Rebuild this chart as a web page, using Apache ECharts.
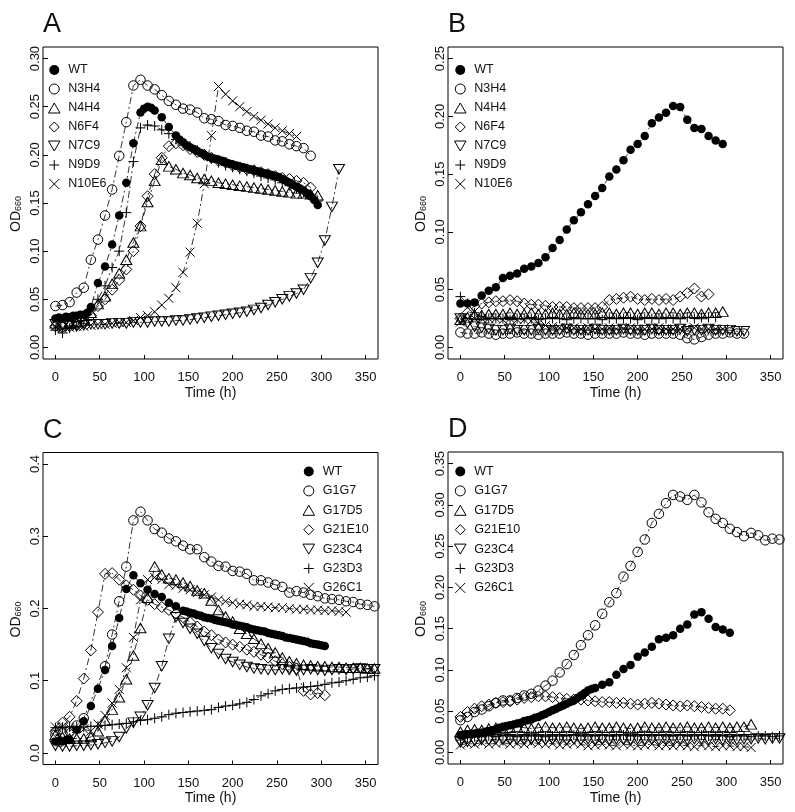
<!DOCTYPE html>
<html><head><meta charset="utf-8">
<script src="https://cdn.jsdelivr.net/npm/echarts@6/dist/echarts.min.js"></script>
<style>html,body{margin:0;padding:0;background:#fff}#c{width:795px;height:812px}</style>
</head><body><div id="c"></div>
<script>
// ---------- time grids (h) ----------
const T4 = [0,4,8,12,16,20,24,28,32,36,40,44,48,52,56,60,64,68,72,76,80,84,88,92,96,100,104,108,112,116,120,124,128,132,136,140,144,148,152,156,160,164,168,172,176,180,184,188,192,196,200,204,208,212,216,220,224,228,232,236,240,244,248,252,256,260,264,268,272,276,280,284,288,292,296,300,304,308,312,316,320,324,328,332,336,340,344,348,352,356,360];
const T8 = [0,8,16,24,32,40,48,56,64,72,80,88,96,104,112,120,128,136,144,152,160,168,176,184,192,200,208,216,224,232,240,248,256,264,272,280,288,296,304,312,320,328,336,344,352,360];

// ---------- names & ticks ----------
const NAMES_AB = ['WT','N3H4','N4H4','N6F4','N7C9','N9D9','N10E6'];
const NAMES_CD = ['WT','G1G7','G17D5','G21E10','G23C4','G23D3','G26C1'];
const PANEL_LABELS = ['A','B','C','D'];
const X_TICKS = [0,50,100,150,200,250,300,350];
const Y_TICKS_A = [0,0.05,0.10,0.15,0.20,0.25,0.30];
const Y_TICKS_B = [0,0.05,0.10,0.15,0.20,0.25];
const Y_TICKS_C = [0,0.1,0.2,0.3,0.4];
const Y_TICKS_D = [0,0.05,0.10,0.15,0.20,0.25,0.30,0.35];

// ---------- Panel A ----------
const A_WT = [0.030,0.031,0.030,0.032,0.031,0.033,0.033,0.034,0.034,0.036,
 0.042,null,0.067,null,0.084,null,0.107,null,0.137,null,
 0.171,null,0.212,null,0.244,0.248,0.250,0.249,0.246,null,
 0.239,null,0.229,null,0.220,0.216,0.213,0.210,0.208,0.206,
 0.204,0.202,0.200,0.198,0.197,0.196,0.195,0.194,0.192,0.191,
 0.190,0.189,0.188,0.187,0.186,0.185,0.184,0.183,0.182,0.181,
 0.180,0.179,0.178,0.177,0.175,0.173,0.171,0.169,0.167,0.165,
 0.163,0.160,0.157,0.153,0.148];
const A_N3H4 = [0.043,0.044,0.047,0.057,0.062,0.091,0.112,0.137,0.164,0.199,0.234,0.272,0.278,0.272,0.268,0.262,0.256,0.252,0.248,0.247,0.244,0.238,0.237,0.235,0.231,0.230,0.228,0.225,0.224,0.220,0.219,0.215,0.214,0.211,0.209,0.207,0.199];
const A_N4H4 = [0.025,0.024,0.025,0.026,0.030,0.036,0.045,0.053,0.066,0.077,0.091,0.109,0.126,0.151,0.173,0.195,0.188,0.185,0.181,0.179,0.176,0.175,0.173,0.171,0.170,0.169,0.168,0.167,0.166,0.165,0.164,0.163,0.162,0.161,0.160,0.160,0.159,0.158];
const A_N6F4 = [0.022,0.021,0.022,0.023,0.026,0.033,0.043,0.050,0.060,0.070,0.081,0.100,0.126,0.157,0.180,0.197,0.209,0.212,0.210,0.206,0.203,0.200,0.197,0.194,0.192,0.189,0.187,0.185,0.184,0.182,0.180,0.178,0.176,0.175,0.173,0.171,0.166];
const A_N7C9 = [0.024,0.022,0.023,0.022,0.023,0.024,0.024,0.024,0.025,0.025,0.025,0.026,0.026,0.026,0.027,0.027,0.027,0.028,0.028,0.029,0.030,0.031,0.032,0.033,0.034,0.035,0.036,0.037,0.039,0.041,0.044,0.047,0.050,0.053,0.056,0.060,0.072,0.088,0.111,0.146,0.185];
const A_N9D9 = [0.018,0.015,0.020,0.022,0.028,0.038,0.050,0.064,0.083,0.100,0.140,0.193,0.228,0.231,0.230,0.226,0.222,0.216,0.212,0.209,0.205,0.201,0.196,0.192,0.189,0.187,0.185,0.183,0.181,0.178,0.176,0.174,0.171,0.168,0.165,0.161,0.157,0.152];
const A_N10E6 = [0.022,0.020,0.021,0.022,0.022,0.023,0.024,0.024,0.025,0.026,0.026,0.028,0.031,0.033,0.037,0.044,0.051,0.062,0.078,0.099,0.129,0.170,0.220,0.271,0.263,0.256,0.250,0.245,0.240,0.236,0.232,0.228,0.225,0.222,0.219];

// ---------- Panel B ----------
const B_WT = [0.038,0.038,0.039,0.045,0.049,0.052,0.060,0.062,0.064,0.068,0.070,0.073,0.078,0.086,0.093,0.102,0.110,0.117,0.124,0.131,0.138,0.148,0.154,0.162,0.171,0.176,0.183,0.194,0.199,0.203,0.209,0.208,0.197,0.190,0.189,0.183,0.179,0.176];
const B_N3H4 = [0.013,0.012,0.012,0.013,0.012,0.011,0.012,0.012,0.013,0.012,0.012,0.011,0.012,0.012,0.012,0.013,0.012,0.012,0.011,0.012,0.012,0.012,0.012,0.013,0.012,0.012,0.011,0.012,0.012,0.012,0.012,0.011,0.008,0.007,0.009,0.011,0.012,0.012,0.013,0.012,0.012];
const B_N4H4 = [0.024,0.026,0.028,0.028,0.029,0.029,0.029,0.030,0.029,0.029,0.030,0.029,0.029,0.030,0.029,0.029,0.030,0.029,0.029,0.029,0.030,0.030,0.029,0.030,0.030,0.029,0.030,0.030,0.029,0.030,0.030,0.029,0.030,0.030,0.029,0.030,0.030,0.031];
const B_N6F4 = [0.025,0.030,0.036,0.038,0.039,0.040,0.040,0.041,0.040,0.038,0.037,0.037,0.036,0.035,0.035,0.035,0.034,0.034,0.034,0.034,0.035,0.041,0.042,0.043,0.044,0.042,0.041,0.042,0.041,0.042,0.041,0.044,0.047,0.051,0.044,0.046];
const B_N7C9 = [0.025,0.021,0.018,0.017,0.016,0.015,0.015,0.016,0.015,0.015,0.015,0.016,0.015,0.015,0.015,0.016,0.015,0.015,0.015,0.016,0.015,0.015,0.015,0.016,0.015,0.015,0.015,0.016,0.015,0.015,0.015,0.016,0.014,0.015,0.015,0.016,0.015,0.015,0.015,0.014,0.014];
const B_N9D9 = [0.044,0.038,0.030,0.027,0.025,0.025,0.025,0.024,0.025,0.025,0.025,0.024,0.025,0.025,0.025,0.024,0.025,0.025,0.025,0.025,0.024,0.025,0.025,0.025,0.025,0.024,0.025,0.025,0.025,0.025,0.025,0.025,0.026,0.025,0.026,0.026,0.026];
const B_N10E6 = [0.022,0.024,0.025,0.025,0.025,0.025,0.024,0.025,0.024,0.024,0.023,0.021,0.019,0.018,0.017,0.017,0.017,0.016,0.017,0.016,0.016,0.017,0.016,0.016,0.017,0.016,0.016,0.016,0.017,0.016,0.016,0.016,0.016,0.017,0.016,0.016,0.016,0.016];

// ---------- Panel C ----------
const C_WT = [0.016,0.017,0.016,0.018,0.018,null,0.032,null,0.044,null,
 0.065,null,0.089,null,0.115,null,0.148,null,0.187,null,
 0.227,null,0.246,null,0.235,null,0.226,null,0.220,null,
 0.216,null,0.208,null,0.203,null,0.197,0.196,0.194,0.193,
 0.191,0.190,0.188,0.187,0.186,0.184,0.183,0.182,0.181,0.180,
 0.178,0.177,0.176,0.175,0.174,0.172,0.171,0.170,0.169,0.168,
 0.166,0.165,0.164,0.163,0.162,0.160,0.159,0.158,0.157,0.156,
 0.155,0.154,0.152,0.151,0.150,0.149,0.148];
const C_G1G7 = [0.025,0.027,0.030,0.038,0.048,null,null,0.120,0.164,0.210,0.258,0.322,0.334,0.322,0.310,0.305,0.297,0.293,0.287,0.282,0.282,0.271,0.265,0.259,0.258,0.252,0.251,0.248,0.239,0.239,0.236,0.233,0.230,0.222,0.224,0.222,0.219,0.217,0.214,0.213,0.212,0.210,0.209,0.206,0.205,0.203];
const C_G17D5 = [0.025,0.022,0.020,0.020,0.020,0.022,0.030,0.045,0.060,0.077,0.102,0.135,0.173,0.215,0.258,0.247,0.242,0.240,0.236,0.231,0.225,0.221,0.211,0.198,0.189,0.182,0.172,0.165,0.158,0.151,0.145,0.139,0.132,0.127,0.124,0.122,0.121,0.120,0.120,0.119,0.119,0.118,0.118,0.118,0.117,0.117];
const C_G21E10 = [0.030,0.042,0.050,0.072,0.103,0.142,0.195,0.248,0.249,0.240,0.232,0.226,0.218,0.212,0.206,0.202,0.198,0.193,0.188,0.181,0.175,0.168,0.163,0.157,0.153,0.150,0.147,0.143,0.140,0.136,0.132,0.127,0.123,0.119,0.117,0.086,0.081,0.083,0.080];
const C_G23C4 = [0.010,0.009,0.009,0.010,0.010,0.011,0.012,0.014,0.016,0.022,0.034,0.042,0.050,0.066,0.090,0.120,0.158,0.188,0.180,0.172,0.165,0.155,0.145,0.137,0.130,0.126,0.122,0.119,0.117,0.116,0.115,0.115,0.116,0.115,0.114,0.115,0.116,0.115,0.114,0.115,0.116,0.115,0.116,0.117,0.116,0.116];
const C_G23D3 = [0.035,0.035,0.036,0.036,0.036,0.037,0.037,0.038,0.039,0.040,0.041,0.043,0.045,0.046,0.048,0.050,0.053,0.055,0.056,0.057,0.058,0.059,0.060,0.063,0.065,0.066,0.068,0.070,0.074,0.079,0.082,0.086,0.088,0.089,0.090,0.091,0.092,0.093,0.095,0.097,0.098,0.100,0.102,0.104,0.105,0.107];
const C_G26C1 = [0.036,0.037,0.035,0.034,0.033,0.030,0.040,0.052,0.069,0.088,0.118,0.160,0.212,0.240,0.243,0.240,0.233,0.232,0.228,0.226,0.222,0.219,0.216,0.212,0.210,0.208,0.206,0.205,0.203,0.203,0.202,0.201,0.201,0.200,0.199,0.199,0.198,0.198,0.197,0.197,0.196,0.195];

// ---------- Panel D ----------
const D_WT = [0.021,0.021,0.022,0.022,0.023,0.024,0.024,0.025,0.026,0.027,
 0.028,0.030,0.031,0.032,0.033,0.034,0.035,0.036,0.038,0.039,
 0.040,0.042,0.043,0.045,0.047,0.049,0.051,0.053,0.055,0.057,
 0.059,0.061,0.063,0.066,0.069,0.072,0.075,0.077,0.078,null,
 0.082,null,0.085,null,0.094,null,0.101,null,0.106,null,
 0.116,null,0.121,null,0.128,null,0.137,null,0.139,null,
 0.142,null,0.150,null,0.155,null,0.167,null,0.170,null,
 0.162,null,0.152,null,0.149,null,0.145];
const D_G1G7 = [0.039,0.043,0.049,0.052,0.056,0.060,0.063,0.063,0.066,0.069,0.071,0.075,0.081,0.087,0.097,0.107,0.118,0.130,0.142,0.154,0.168,0.182,0.193,0.213,0.226,0.243,0.258,0.278,0.289,0.302,0.312,0.310,0.306,0.312,0.303,0.291,0.283,0.278,0.271,0.267,0.262,0.266,0.263,0.257,0.259,0.258];
const D_G17D5 = [0.025,0.027,0.028,0.027,0.029,0.030,0.029,0.030,0.031,0.030,0.029,0.030,0.031,0.030,0.030,0.031,0.030,0.029,0.030,0.031,0.030,0.030,0.031,0.030,0.029,0.030,0.031,0.030,0.030,0.031,0.030,0.030,0.031,0.030,0.030,0.031,0.030,0.031,0.030,0.031,0.031,0.034];
const D_G21E10 = [0.043,0.049,0.053,0.056,0.058,0.060,0.061,0.062,0.064,0.066,0.067,0.068,0.068,0.067,0.066,0.065,0.064,0.064,0.063,0.062,0.061,0.061,0.060,0.060,0.059,0.058,0.059,0.060,0.059,0.058,0.057,0.056,0.057,0.056,0.055,0.054,0.053,0.053,0.051];
const D_G23C4 = [0.012,0.013,0.014,0.015,0.015,0.016,0.015,0.016,0.015,0.016,0.015,0.016,0.015,0.016,0.016,0.015,0.016,0.015,0.016,0.015,0.016,0.015,0.016,0.016,0.015,0.016,0.015,0.016,0.015,0.016,0.015,0.016,0.015,0.016,0.016,0.015,0.016,0.015,0.016,0.015,0.016,0.016,0.017,0.016,0.017,0.017];
const D_G23D3 = [0.015,0.018,0.019,0.019,0.020,0.019,0.020,0.020,0.019,0.020,0.020,0.020,0.019,0.020,0.020,0.020,0.021,0.020,0.020,0.020,0.021,0.020,0.020,0.021,0.020,0.020,0.021,0.020,0.021,0.020,0.020,0.021,0.020,0.020,0.021,0.020,0.020,0.020,0.019,0.020,0.020,0.019,0.020,0.020,0.019,0.020];
const D_G26C1 = [0.009,0.011,0.010,0.012,0.010,0.011,0.012,0.010,0.011,0.010,0.012,0.011,0.010,0.011,0.009,0.010,0.011,0.010,0.008,0.009,0.010,0.009,0.008,0.010,0.009,0.008,0.009,0.010,0.008,0.009,0.008,0.009,0.008,0.007,0.009,0.008,0.007,0.008,0.008,0.007,0.007,0.006];

// ---------- assembly ----------
const F = '"Liberation Sans", Arial, Helvetica, sans-serif';
const NONE = 'rgba(0,0,0,0)';
const SHAPES = [
  {symbol:'circle', size:8.5, fill:'#000', bw:0},
  {symbol:'circle', size:9.5, fill:NONE, bw:1},
  {symbol:'path://M0,1.732L1,0L2,1.732Z', size:[11,9.5], fill:NONE, bw:1},
  {symbol:'path://M1,0L2,1L1,2L0,1Z', size:[11,11], fill:NONE, bw:1},
  {symbol:'path://M0,0L2,0L1,1.732Z', size:[11,9.5], fill:NONE, bw:1},
  {symbol:'path://M1,0L1,2M0,1L2,1', size:[10,10], fill:NONE, bw:1},
  {symbol:'path://M0,0L2,2M0,2L2,0', size:[9,9], fill:NONE, bw:1}
];

const PANELS = [
  {names:NAMES_AB, yTicks:Y_TICKS_A, ymin:-0.012, ymax:0.312, dec:2, left:43, top:47,
   legend:{left:48, top:63.5, gap:6},
   sets:[[T4,A_WT],[T8,A_N3H4],[T8,A_N4H4],[T8,A_N6F4],[T8,A_N7C9],[T8,A_N9D9],[T8,A_N10E6]]},
  {names:NAMES_AB, yTicks:Y_TICKS_B, ymin:-0.01, ymax:0.26, dec:2, left:448, top:47,
   legend:{left:454, top:63.5, gap:6},
   sets:[[T8,B_WT],[T8,B_N3H4],[T8,B_N4H4],[T8,B_N6F4],[T8,B_N7C9],[T8,B_N9D9],[T8,B_N10E6]]},
  {names:NAMES_CD, yTicks:Y_TICKS_C, ymin:-0.016, ymax:0.416, dec:1, left:43, top:452.5,
   legend:{left:302.5, top:465, gap:6.4},
   sets:[[T4,C_WT],[T8,C_G1G7],[T8,C_G17D5],[T8,C_G21E10],[T8,C_G23C4],[T8,C_G23D3],[T8,C_G26C1]]},
  {names:NAMES_CD, yTicks:Y_TICKS_D, ymin:-0.014, ymax:0.364, dec:2, left:448, top:452,
   legend:{left:454, top:465, gap:6.4},
   sets:[[T4,D_WT],[T8,D_G1G7],[T8,D_G17D5],[T8,D_G21E10],[T8,D_G23C4],[T8,D_G23D3],[T8,D_G26C1]]}
];

const option = {
  animation:false,
  backgroundColor:'#fff',
  title:[], grid:[], xAxis:[], yAxis:[], legend:[], series:[]
};

PANELS.forEach((p, gi) => {
  option.title.push({text:PANEL_LABELS[gi], left:p.left, top:p.top-35.5, padding:0,
    textStyle:{fontSize:27, fontWeight:'normal', fontFamily:F, color:'#111'}});
  option.grid.push({left:p.left, top:p.top, width:335, height:312, show:true,
    borderColor:'#000', borderWidth:1, backgroundColor:'transparent'});
  option.xAxis.push({type:'value', gridIndex:gi, min:-14, max:364,
    name:'Time (h)', nameLocation:'middle', nameGap:27,
    nameTextStyle:{fontSize:14, fontFamily:F, color:'#111'},
    axisLine:{show:false, onZero:false}, splitLine:{show:false},
    axisTick:{show:true, inside:true, length:4, customValues:X_TICKS, lineStyle:{color:'#000', width:1}},
    axisLabel:{customValues:X_TICKS, fontSize:13, fontFamily:F, color:'#111', margin:12,
      formatter:(v)=>String(v)}});
  option.yAxis.push({type:'value', gridIndex:gi, min:p.ymin, max:p.ymax,
    name:'OD{s|660}', nameLocation:'middle', nameGap:20, nameRotate:90,
    nameTextStyle:{fontSize:14, lineHeight:14, fontFamily:F, color:'#111', padding:[0,22,0,0],
      rich:{s:{fontSize:9, lineHeight:10, verticalAlign:'bottom', fontFamily:F, color:'#111'}}},
    axisLine:{show:false, onZero:false}, splitLine:{show:false},
    axisTick:{show:true, inside:true, length:5, customValues:p.yTicks, lineStyle:{color:'#000', width:1}},
    axisLabel:{customValues:p.yTicks, rotate:90, fontSize:13, fontFamily:F, color:'#111', margin:1,
      formatter:(v)=>v.toFixed(p.dec)}});
  option.legend.push({orient:'vertical', left:p.legend.left, top:p.legend.top, padding:0,
    itemWidth:18, itemHeight:10, itemGap:p.legend.gap, symbolKeepAspect:true, selectedMode:false,
    textStyle:{fontSize:12.5, lineHeight:13, fontFamily:F, color:'#111'},
    data:p.names.map((n,k)=>({name:n, icon:SHAPES[k].symbol,
      itemStyle:{color:SHAPES[k].fill, borderColor:'#000', borderWidth:SHAPES[k].bw}}))});
  p.sets.forEach(([times, vals], k) => {
    const s = SHAPES[k];
    const data = [];
    vals.forEach((v, i) => { if (v !== null) data.push([times[i], v]); });
    option.series.push({type:'line', name:p.names[k], xAxisIndex:gi, yAxisIndex:gi,
      data, symbol:s.symbol, symbolSize:s.size, showAllSymbol:true, clip:true, silent:true,
      lineStyle:{color:'#000', width:0.8, type:[7,3,2,3]},
      itemStyle:{color:s.fill, borderColor:'#000', borderWidth:s.bw},
      emphasis:{disabled:true}, z:2});
  });
});

const chart = echarts.init(document.getElementById('c'), null, {renderer:'canvas'});
chart.setOption(option);
</script>
</body></html>
